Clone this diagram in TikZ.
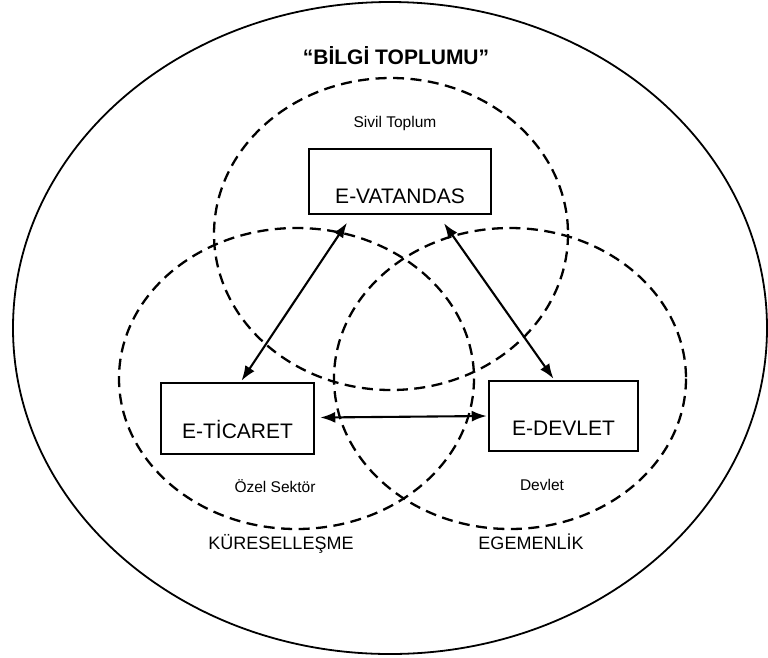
\documentclass[tikz,border=0pt]{standalone}
\usepackage{fontspec}
\setmainfont{Liberation Sans}
\usetikzlibrary{arrows.meta}

\tikzset{
  outerline/.style={line width=1.8pt},
  sphere/.style={dash pattern=on 11pt off 6.5pt, line width=2.3pt},
  actor/.style={draw, line width=1.5pt, inner sep=0pt, align=center,
                font=\fontsize{21}{24}\selectfont},
  tag/.style={anchor=base, font=\fontsize{15.5}{18}\selectfont},
  bigtag/.style={anchor=base, font=\fontsize{18}{21}\selectfont},
  link/.style={line width=2.1pt, {Latex[length=15pt,width=11pt]}-{Latex[length=15pt,width=11pt]}}
}

\begin{document}
\begin{tikzpicture}[x=1pt, y=-1pt]
  \useasboundingbox (0,0) rectangle (768,657);

  % society as a whole
  \draw[outerline] (390,328) ellipse [x radius=377, y radius=326];
  \node[anchor=base, font=\bfseries\fontsize{21}{24}\selectfont] (title) at (396,64) {“BİLGİ TOPLUMU”};

  % the three overlapping spheres
  \draw[sphere] (391,234) ellipse [x radius=177, y radius=156];
  \draw[sphere] (296.5,378.5) ellipse [x radius=177.5, y radius=150.5];
  \draw[sphere] (510,378.5) ellipse [x radius=176, y radius=150.5];

  % actors
  \node[actor, minimum width=182pt, text height=54pt, text depth=11pt] (vat) at (400,181.5) {E-VATANDAS};
  \node[actor, minimum width=153pt, text height=55pt, text depth=16pt] (tic) at (237.5,418.5) {E-TİCARET};
  \node[actor, minimum width=149pt, text height=54.5pt, text depth=15.5pt] (dev) at (563.5,416) {E-DEVLET};

  % sphere labels
  \node[tag] (sivil) at (395,127) {Sivil Toplum};
  \node[tag] (ozel) at (275,492) {Özel Sektör};
  \node[tag] (devlet) at (542,490) {Devlet};
  \node[bigtag] (kur) at (281,549) {KÜRESELLEŞME};
  \node[bigtag] (ege) at (531,549) {EGEMENLİK};

  % relations between actors
  \draw[link] ([xshift=-53pt,yshift=-8pt]vat.south) -- ([xshift=4pt,yshift=1.5pt]tic.north);
  \draw[link] ([xshift=44pt,yshift=-8.5pt]vat.south) -- ([xshift=-10pt,yshift=1.5pt]dev.north);
  \draw[link] ([xshift=5.5pt,yshift=1pt]tic.east) -- ([xshift=-1.5pt]dev.west);
\end{tikzpicture}
\end{document}
